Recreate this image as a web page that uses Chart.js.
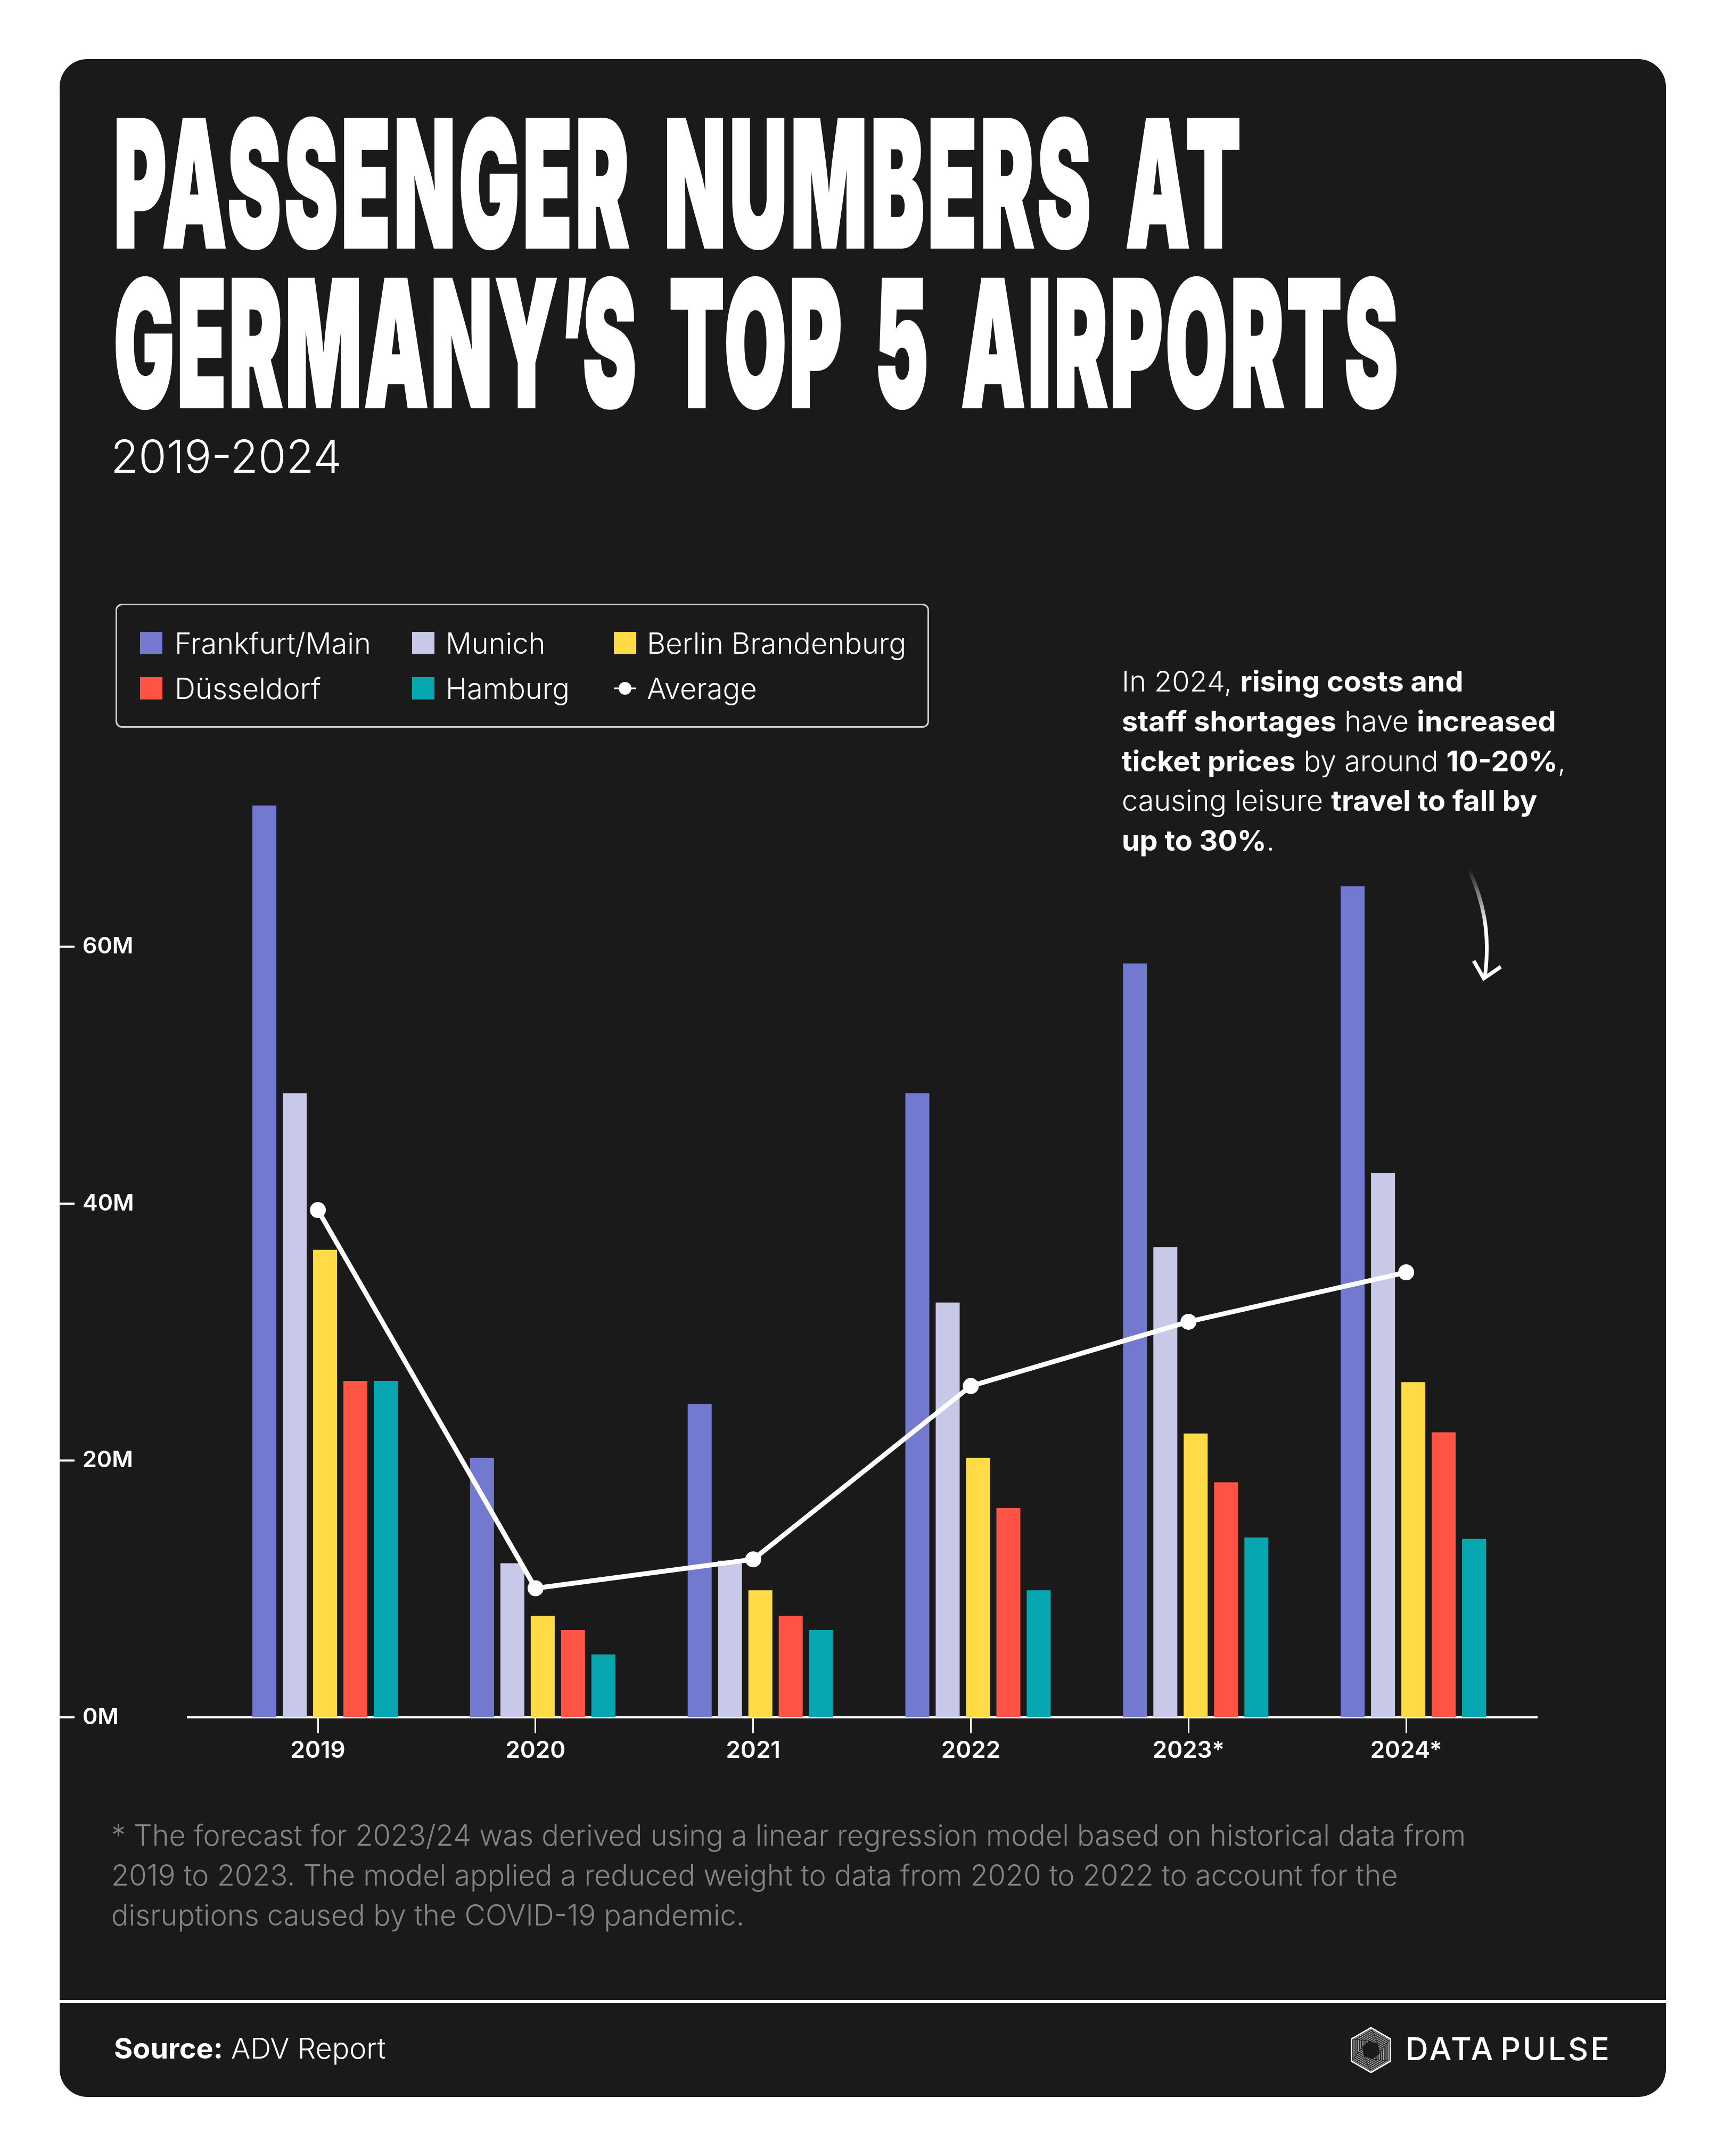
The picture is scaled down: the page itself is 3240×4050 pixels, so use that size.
<!DOCTYPE html>
<html lang="en">
<head>
<meta charset="UTF-8">
<title>Passenger numbers at Germany's top 5 airports</title>
<script src="https://cdn.jsdelivr.net/npm/chart.js@4"></script>
<style>
  html, body { margin: 0; background: #fff; }
  body { width: 3240px; height: 4050px; position: relative; overflow: hidden; font-family: Inter, sans-serif; color: #fff; }
  #card { position: absolute; left: 112px; top: 111px; width: 3017px; height: 3828px; background: #1a1a1a; border-radius: 52px; }
  .abs { position: absolute; white-space: nowrap; }
  .title { left: 214px; font-weight: 900; font-size: 326px; line-height: 300px; height: 300px; transform-origin: left center; transform: scaleX(.46); -webkit-text-stroke: 8px #fff; }
  #subtitle { left: 208px; top: 803px; font-size: 85px; font-weight: 300; line-height: 110px; }
  #legend { left: 217px; top: 1134px; width: 1528px; height: 233px; box-sizing: border-box; border: 3px solid #d0d0d0; border-radius: 12px; }
  .leg-item { position: absolute; font-size: 54.2px; font-weight: 300; line-height: 42px; display: flex; align-items: center; }
  .leg-swatch { width: 42px; height: 42px; position: relative; flex: none; }
  #note { left: 2107px; top: 1243px; font-size: 54px; font-weight: 300; line-height: 74.8px; }
  #note b { font-weight: 700; }
  #chart { position: absolute; left: 112px; top: 1440px; }
  #footnote { left: 209px; top: 3410px; font-size: 54.1px; font-weight: 300; line-height: 75px; color: #858585; }
  #rule { left: 112px; top: 3757px; width: 3017px; height: 6px; background: #fff; }
  #source { left: 214px; top: 3810px; font-size: 54px; font-weight: 300; line-height: 76px; }
  #source b { font-weight: 700; }
  #brand { left: 2640px; top: 3813px; font-size: 59px; font-weight: 500; line-height: 72px; letter-spacing: 4px; word-spacing: -10px; }
</style>
</head>
<body>
<div id="card"></div>
<div class="abs title" style="top:195px;letter-spacing:15px;word-spacing:50px">PASSENGER NUMBERS AT</div>
<div class="abs title" style="top:495px;letter-spacing:12px;word-spacing:47px">GERMANY<span style="letter-spacing:-22px">’</span>S TOP 5 AIRPORTS</div>
<div class="abs" id="subtitle">2019-2024</div>
<div class="abs" id="legend"></div>
<div class="abs" id="note">In 2024, <b>rising costs and</b><br><b>staff shortages</b> have <b>increased</b><br><b>ticket prices</b> by around <b>10-20%</b>,<br>causing leisure <b>travel to fall by</b><br><b>up to 30%</b>.</div>
<svg class="abs" style="left:2740px;top:1620px" width="100" height="240" viewBox="2740 1620 100 240">
  <defs><linearGradient id="fade" gradientUnits="userSpaceOnUse" x1="0" y1="1633" x2="0" y2="1740"><stop offset="0" stop-color="#fff" stop-opacity="0"/><stop offset="1" stop-color="#fff"/></linearGradient></defs>
  <path d="M2759 1633 C2785 1690 2800 1750 2789 1836" fill="none" stroke="url(#fade)" stroke-width="7"/>
  <path d="M2768 1805 L2787 1838 L2819 1816" fill="none" stroke="#fff" stroke-width="7"/>
</svg>
<canvas id="chart" width="2800" height="1960"></canvas>
<div class="abs" id="footnote">* The forecast for 2023/24 was derived using a linear regression model based on historical data from<br>2019 to 2023. The model applied a reduced weight to data from 2020 to 2022 to account for the<br>disruptions caused by the COVID-19 pandemic.</div>
<div class="abs" id="rule"></div>
<div class="abs" id="source"><b>Source:</b> ADV Report</div>
<svg class="abs" style="left:2533px;top:3806px" width="84" height="90" viewBox="-42 -45 84 90">
  <defs>
    <pattern id="hatch" width="3.4" height="3.4" patternUnits="userSpaceOnUse" patternTransform="rotate(30)"><rect width="3.4" height="3.4" fill="#2b2b2b"/><rect width="3.4" height="1.1" fill="#c8c8c8"/></pattern>
    <path id="blade" d="M0 -42 L36.4 -21 L16 6.8 L13 -10.9 Z" fill="url(#hatch)" stroke="#1a1a1a" stroke-width="1"/>
  </defs>
  <use href="#blade"/>
  <use href="#blade" transform="rotate(60)"/>
  <use href="#blade" transform="rotate(120)"/>
  <use href="#blade" transform="rotate(180)"/>
  <use href="#blade" transform="rotate(240)"/>
  <use href="#blade" transform="rotate(300)"/>
  <path d="M0 -42 L36.4 -21 V21 L0 42 L-36.4 21 V-21 Z" fill="none" stroke="#fff" stroke-width="2.6" stroke-linejoin="round"/>
</svg>
<div class="abs" id="brand">DATA PULSE</div>

<script>
const categories = ['2019', '2020', '2021', '2022', '2023*', '2024*'];
const seriesNames = ['Frankfurt/Main', 'Munich', 'Berlin Brandenburg', 'Düsseldorf', 'Hamburg'];
const seriesColors = ['#7479d0', '#c8c9e8', '#ffdb45', '#ff5345', '#06a7b0'];
const frankfurt = [71.0, 20.2, 24.4, 48.6, 58.7, 64.7];
const munich = [48.6, 12.0, 12.2, 32.3, 36.6, 42.4];
const berlin = [36.4, 7.9, 9.9, 20.2, 22.1, 26.1];
const dusseldorf = [26.2, 6.8, 7.9, 16.3, 18.3, 22.2];
const hamburg = [26.2, 4.9, 6.8, 9.9, 14.0, 13.9];
const average = [39.5, 10.05, 12.3, 25.8, 30.8, 34.65];
const yTicks = [0, 20, 40, 60];

const allBars = [frankfurt, munich, berlin, dusseldorf, hamburg];

// bars sit a little right of the year ticks in the original,
// so the ticks and the average line are placed barShift left of the bar groups
const barShift = 0.033;
const xMin = -0.63, xMax = 5.566;

const datasets = allBars.map((values, i) => ({
  type: 'bar',
  label: seriesNames[i],
  data: values.map((v, j) => ({ x: j, y: v })),
  backgroundColor: seriesColors[i],
  categoryPercentage: 0.697,
  barPercentage: 0.79,
  order: 1
}));
datasets.push({
  type: 'line',
  label: 'Average',
  data: average.map((v, j) => ({ x: j - barShift, y: v })),
  borderColor: '#fff',
  borderWidth: 9,
  pointBackgroundColor: '#fff',
  pointBorderWidth: 0,
  pointRadius: 15,
  tension: 0,
  order: 0
});

// tick marks of the y axis start at the card edge, away from the plot
const yTickMarks = {
  id: 'yTickMarks',
  afterDraw(chart) {
    const ctx = chart.ctx;
    ctx.save();
    ctx.fillStyle = '#fff';
    yTicks.forEach(v => {
      const y = chart.scales.y.getPixelForValue(v);
      ctx.fillRect(0, y - 2, 28, 4);
    });
    ctx.restore();
  }
};

new Chart(document.getElementById('chart'), {
  type: 'bar',
  data: { datasets },
  plugins: [yTickMarks],
  options: {
    responsive: false,
    animation: false,
    devicePixelRatio: 1,
    layout: { padding: { left: 43, top: 49, right: 26, bottom: 0 } },
    plugins: { legend: { display: false }, tooltip: { enabled: false } },
    scales: {
      x: {
        type: 'linear',
        offset: false,
        min: xMin,
        max: xMax,
        afterBuildTicks: s => { s.ticks = categories.map((c, i) => ({ value: i - barShift })); },
        afterFit: s => { s.height = 174; },
        border: { color: '#fff', width: 4 },
        grid: { offset: false, drawOnChartArea: false, color: '#fff', lineWidth: 3, tickLength: 30 },
        ticks: {
          color: '#fff',
          padding: 6,
          maxRotation: 0,
          autoSkip: false,
          font: { family: 'Inter', size: 44, weight: '600' },
          callback: (v, i) => categories[i]
        }
      },
      y: {
        min: 0,
        max: 72,
        afterBuildTicks: s => { s.ticks = yTicks.map(v => ({ value: v })); },
        afterFit: s => { s.width = 198; },
        border: { display: false },
        grid: { display: false },
        ticks: {
          color: '#fff',
          crossAlign: 'far',
          font: { family: 'Inter', size: 43, weight: '600' },
          callback: v => v + 'M'
        }
      }
    }
  }
});

// legend in three columns, built from the series names and colours
const legendCols = [[43, 108], [554, 617], [933, 995]];
const legendBox = document.getElementById('legend');
const legendRows = [50, 135];
const legendOrder = [0, 1, 2, 3, 4, 5];
legendOrder.forEach(n => {
  const item = document.createElement('div');
  item.className = 'leg-item';
  const col = n % 3, row = Math.floor(n / 3);
  item.style.left = legendCols[col][0] + 'px';
  item.style.top = legendRows[row] + 'px';
  const sw = document.createElement('span');
  sw.className = 'leg-swatch';
  sw.style.marginRight = (legendCols[col][1] - legendCols[col][0] - 42) + 'px';
  if (n < 5) {
    sw.style.background = seriesColors[n];
  } else {
    sw.innerHTML = '<svg width="42" height="42"><rect x="0" y="19.5" width="42" height="3" fill="#fff"/><circle cx="21" cy="21" r="12" fill="#fff"/></svg>';
  }
  item.appendChild(sw);
  item.appendChild(document.createTextNode(n < 5 ? seriesNames[n] : 'Average'));
  legendBox.appendChild(item);
});
</script>
</body>
</html>
